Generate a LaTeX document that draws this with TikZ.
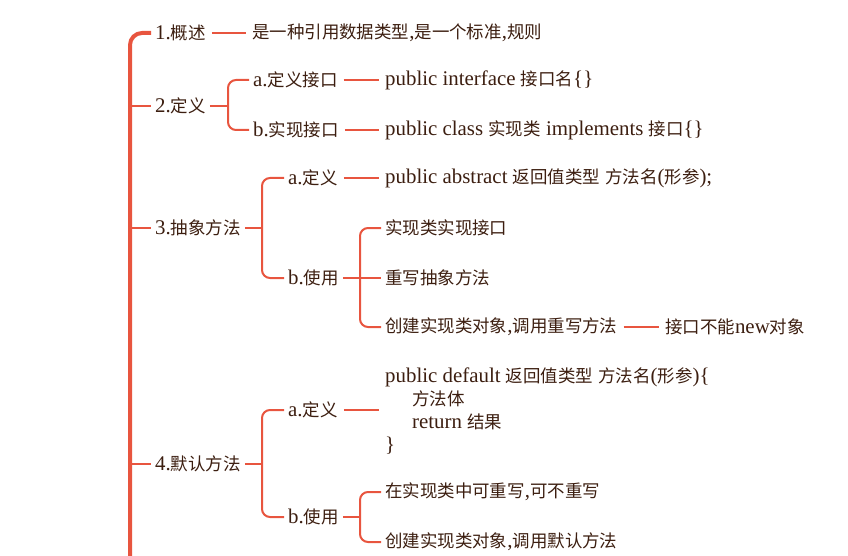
\documentclass[tikz,border=0pt]{standalone}
\usepackage{fontspec}
\setmainfont{Liberation Serif}[Scale=1.16]
\newfontfamily\latinfont{Liberation Serif}[Scale=1.16]
\newfontfamily\cjkfont{Noto Sans CJK SC}[Scale=0.97]
\XeTeXinterchartokenstate=1
\newXeTeXintercharclass\hanclass
\count255="3000
\loop\XeTeXcharclass\count255=\hanclass\advance\count255 by 1 \ifnum\count255<"A000 \repeat
\XeTeXinterchartoks 0 \hanclass = {\cjkfont}
\XeTeXinterchartoks 4095 \hanclass = {\cjkfont}
\XeTeXinterchartoks \hanclass 0 = {\latinfont}
\XeTeXinterchartoks \hanclass 4095 = {\latinfont}
\usetikzlibrary{positioning}
\definecolor{Line}{HTML}{E8553F}
\definecolor{Ink}{HTML}{3C1E10}

\begin{document}
\begin{tikzpicture}[x=1pt,y=1pt,
  txt/.style={anchor=west,inner sep=4pt,text=Ink,font=\fontsize{18}{23}\selectfont},
  br/.style={Line,line width=2pt,rounded corners=8pt},
  link/.style={Line,line width=2pt,shorten <=2pt,shorten >=2pt}]
  \useasboundingbox (0,0) rectangle (848,-556);
  \node[txt] (n1) at (151,-33) {1.概述};
  \node[txt] (n1a) at (248,-33) {是一种引用数据类型,是一个标准,规则};
  \node[txt] (n2) at (151,-106) {2.定义};
  \node[txt] (n2a) at (249,-80) {a.定义接口};
  \node[txt] (n2b) at (249,-130) {b.实现接口};
  \node[txt] (n2a1) at (381,-80) {public interface 接口名\{\}};
  \node[txt] (n2b1) at (381,-130) {public class 实现类 implements 接口\{\}};
  \node[txt] (n3) at (151,-228) {3.抽象方法};
  \node[txt] (n3a) at (284,-178) {a.定义};
  \node[txt] (n3b) at (284,-278) {b.使用};
  \node[txt] (n3a1) at (381,-178) {public abstract 返回值类型 方法名(形参);};
  \node[txt] (n3b1) at (381,-228) {实现类实现接口};
  \node[txt] (n3b2) at (381,-278) {重写抽象方法};
  \node[txt] (n3b3) at (381,-327) {创建实现类对象,调用重写方法};
  \node[txt] (n3b4) at (661,-327) {接口不能new对象};
  \node[txt] (n4) at (151,-464) {4.默认方法};
  \node[txt] (n4a) at (284,-410) {a.定义};
  \node[txt] (n4b) at (284,-517) {b.使用};
  \node[txt,align=left] (n4a1) at (381,-411) {public default 返回值类型 方法名(形参)\{\\
    \hspace*{27pt}方法体\\ \hspace*{27pt}return 结果\\ \}};
  \node[txt] (n4b1) at (381,-492) {在实现类中可重写,可不重写};
  \node[txt] (n4b2) at (381,-542) {创建实现类对象,调用默认方法};

  \coordinate (tr) at (130,-556);
  \coordinate (j2) at (228,-106);
  \coordinate (j3) at (262,-228);
  \coordinate (j3b) at (360,-278);
  \coordinate (j4) at (262,-464);
  \coordinate (j4b) at (360,-517);

  \draw[br,line width=4pt,rounded corners=12pt] (tr) |- (n1.west);
  \foreach \n in {n2,n3,n4}
    \draw[br] (tr |- \n.west) -- (\n.west);
  \draw[link] (n1) -- (n1a);
  \draw[br] (n2) -- (j2);
  \draw[br] (n2a.west) -| (j2) |- (n2b.west);
  \draw[link] (n2a) -- (n2a1);
  \draw[link] (n2b) -- (n2b1);
  \draw[br] (n3) -- (j3);
  \draw[br] (n3a.west) -| (j3) |- (n3b.west);
  \draw[link] (n3a) -- (n3a1);
  \draw[br] (n3b) -- (j3b);
  \draw[br] (n3b1.west) -| (j3b) |- (n3b3.west);
  \draw[br] (j3b) -- (n3b2.west);
  \draw[link] (n3b3) -- (n3b4);
  \draw[br] (n4) -- (j4);
  \draw[br] (n4a.west) -| (j4) |- (n4b.west);
  \draw[link] (n4a) -- (n4a.east -| n4a1.west);
  \draw[br] (n4b) -- (j4b);
  \draw[br] (n4b1.west) -| (j4b) |- (n4b2.west);
\end{tikzpicture}
\end{document}
